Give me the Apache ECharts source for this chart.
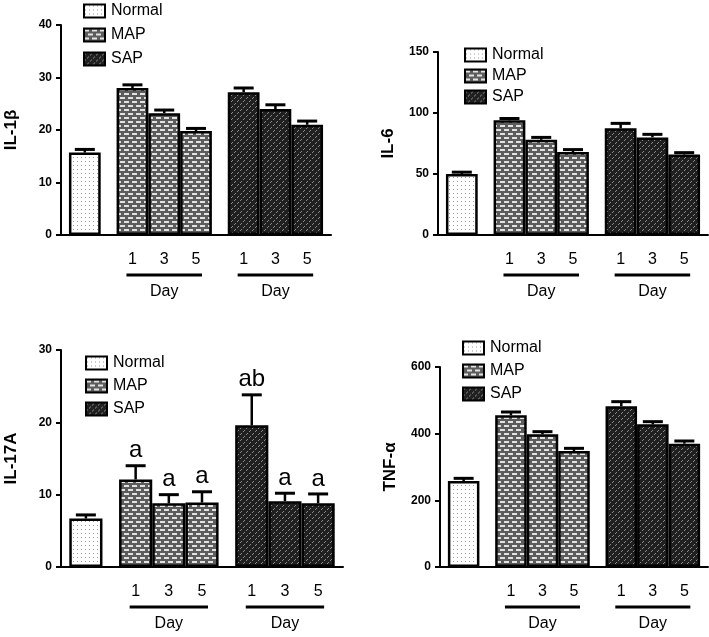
<!DOCTYPE html>
<html>
<head>
<meta charset="utf-8">
<script src="https://cdn.jsdelivr.net/npm/echarts@6/dist/echarts.min.js"></script>
<style>html,body{margin:0;padding:0;background:#fff;}#c{width:709px;height:637px;}</style>
</head>
<body>
<div id="c"></div>
<script>
// ---------------- data ----------------
const legendNames = ['Normal', 'MAP', 'SAP'];
const barGroups = ['Normal', 'MAP', 'MAP', 'MAP', 'SAP', 'SAP', 'SAP'];
const dayLabels = ['', '1', '3', '5', '1', '3', '5'];
const panelNames = ['IL-1β', 'IL-6', 'IL-17A', 'TNF-α'];
const yMaxes = [40, 150, 30, 600];
const ySteps = [10, 50, 10, 200];

const il1bMean = [15.7, 28.0, 23.2, 19.8, 27.2, 24.0, 21.0];
const il1bErr  = [0.6, 0.6, 0.6, 0.5, 0.8, 0.8, 0.7];
const il6Mean  = [50, 94, 78, 68, 87.5, 80, 66];
const il6Err   = [1.5, 1.5, 2, 2, 4, 2.5, 1.5];
const il17Mean = [6.7, 12.1, 8.8, 8.9, 19.6, 9.1, 8.8];
const il17Err  = [0.5, 1.9, 1.2, 1.5, 4.2, 1.1, 1.3];
const il17Sig  = ['', 'a', 'a', 'a', 'ab', 'a', 'a'];
const tnfMean  = [258, 455, 398, 348, 482, 428, 370];
const tnfErr   = [8, 10, 8, 8, 14, 8, 8];

const means = [il1bMean, il6Mean, il17Mean, tnfMean];
const errs = [il1bErr, il6Err, il17Err, tnfErr];
const sigs = [null, null, il17Sig, null];

// ---------------- layout ----------------
const FONT = 'Arial, "Liberation Sans", sans-serif';
const grids = [
  {left: 61, top: 25, width: 270, height: 210},
  {left: 438, top: 52, width: 270, height: 183},
  {left: 61, top: 350, width: 282, height: 217},
  {left: 440, top: 367, width: 268, height: 200}
];
const legendPos = [
  {left: 78, top: -2, gap: 8},
  {left: 459, top: 42, gap: 5},
  {left: 80, top: 350, gap: 7},
  {left: 457, top: 335, gap: 7}
];

// slot positions: half-bar units, bars in a group touch, groups separated by extra half bar
function slotsFor(groups) {
  const s = []; let cur = 1;
  groups.forEach((g, i) => { if (i > 0) cur += (g !== groups[i - 1] ? 3 : 2); s.push(cur); });
  return s;
}
const slots = slotsFor(barGroups);
const nSlots = slots[slots.length - 1] + 2;
const slotCats = Array.from({length: nSlots}, (_, i) => 'c' + i);
const slotLabel = {}; slots.forEach((s, i) => slotLabel[s] = dayLabels[i]);
const slotSet = new Set(slots);

// ---------------- patterns ----------------
function makePattern(kind) {
  const c = document.createElement('canvas');
  const ctx = c.getContext('2d');
  if (kind === 'Normal') {
    c.width = 4; c.height = 4;
    ctx.fillStyle = '#ffffff'; ctx.fillRect(0, 0, 4, 4);
    ctx.fillStyle = '#9a9a9a'; ctx.fillRect(1, 1, 1, 1);
  } else if (kind === 'MAP') {
    c.width = 8; c.height = 8;
    ctx.fillStyle = '#5c5c5c'; ctx.fillRect(0, 0, 8, 8);
    ctx.fillStyle = '#e2e2e2';
    ctx.fillRect(0, 1, 5, 2);
    ctx.fillRect(4, 5, 4, 2); ctx.fillRect(0, 5, 1, 2);
  } else {
    c.width = 6; c.height = 6;
    ctx.fillStyle = '#202020'; ctx.fillRect(0, 0, 6, 6);
    ctx.fillStyle = '#8a8a8a';
    ctx.fillRect(0, 2, 1, 1); ctx.fillRect(1, 1, 1, 1);
    ctx.fillRect(3, 5, 1, 1); ctx.fillRect(4, 4, 1, 1);
  }
  return {image: c, repeat: 'repeat'};
}
const patterns = {};
legendNames.forEach(g => patterns[g] = makePattern(g));

// ---------------- option ----------------
const option = {
  animation: false,
  backgroundColor: '#fff',
  grid: grids.map(g => Object.assign({containLabel: false}, g)),
  legend: legendPos.map(p => ({
    data: legendNames, orient: 'vertical', left: p.left, top: p.top,
    itemWidth: 21, itemHeight: 13, itemGap: p.gap, icon: 'rect', selectedMode: false,
    textStyle: {fontSize: 16, color: '#000', fontFamily: FONT, padding: [0, 0, 0, 1]},
    itemStyle: {borderColor: '#000', borderWidth: 2}
  })),
  xAxis: grids.map((g, k) => ({
    type: 'category', gridIndex: k, data: slotCats, boundaryGap: true,
    axisLine: {lineStyle: {color: '#000', width: 2}},
    axisTick: {alignWithLabel: true, length: 5, lineStyle: {color: '#000', width: 2},
      interval: (idx) => slotSet.has(idx)},
    axisLabel: {interval: (idx) => slotSet.has(idx), formatter: (v, idx) => slotLabel[idx] || '',
      fontSize: 16, color: '#000', fontFamily: FONT, margin: 17},
    splitLine: {show: false}
  })),
  yAxis: grids.map((g, k) => ({
    type: 'value', gridIndex: k, min: 0, max: yMaxes[k], interval: ySteps[k],
    name: panelNames[k], nameLocation: 'middle', nameRotate: 90, nameGap: 41,
    nameTextStyle: {fontSize: 17, fontWeight: 'bold', color: '#000', fontFamily: FONT},
    axisLine: {show: true, lineStyle: {color: '#000', width: 2}},
    axisTick: {show: true, length: 5, lineStyle: {color: '#000', width: 2}},
    axisLabel: {fontSize: 12, fontWeight: 'bold', color: '#000', fontFamily: FONT, margin: 9},
    splitLine: {show: false}
  })),
  series: []
};

grids.forEach((g, k) => {
  const bw = 2 * g.width / nSlots;
  legendNames.forEach(name => {
    const data = Array(nSlots).fill('-');
    barGroups.forEach((bg, i) => { if (bg === name) data[slots[i]] = means[k][i]; });
    option.series.push({
      type: 'bar', name: name, xAxisIndex: k, yAxisIndex: k, stack: 'p' + k,
      barWidth: bw, data: data, silent: true,
      itemStyle: {color: patterns[name], borderColor: '#000', borderWidth: 2.5}
    });
  });
  const sig = sigs[k];
  option.series.push({
    type: 'custom', name: 'err' + k, xAxisIndex: k, yAxisIndex: k, z: 5, silent: true,
    data: means[k].map((m, i) => [slots[i], m, errs[k][i]]),
    renderItem: function (params, api) {
      const x = api.value(0), m = api.value(1), e = api.value(2);
      const p0 = api.coord([x, m]);
      const p1 = api.coord([x, m + e]);
      const children = [
        {type: 'line', shape: {x1: p0[0], y1: p0[1], x2: p1[0], y2: p1[1]},
          style: {stroke: '#000', lineWidth: 2.5}},
        {type: 'line', shape: {x1: p1[0] - 10, y1: p1[1], x2: p1[0] + 10, y2: p1[1]},
          style: {stroke: '#000', lineWidth: 3}}
      ];
      if (sig && sig[params.dataIndex]) {
        children.push({type: 'text', style: {text: sig[params.dataIndex], x: p1[0], y: p1[1] - 3,
          textAlign: 'center', textVerticalAlign: 'bottom', fontSize: 24, fontFamily: FONT, fill: '#000'}});
      }
      return {type: 'group', children: children};
    }
  });
});

const chart = echarts.init(document.getElementById('c'), null, {renderer: 'canvas'});
chart.setOption(option);

// "Day" brackets under each group of days
const graphics = [];
grids.forEach((g, k) => {
  ['MAP', 'SAP'].forEach(name => {
    const idx = barGroups.map((bg, i) => bg === name ? i : -1).filter(i => i >= 0);
    const a = chart.convertToPixel({gridIndex: k}, [slots[idx[0]], 0]);
    const b = chart.convertToPixel({gridIndex: k}, [slots[idx[idx.length - 1]], 0]);
    graphics.push({type: 'line', shape: {x1: a[0] - 6, y1: a[1] + 40, x2: b[0] + 6, y2: b[1] + 40},
      style: {stroke: '#000', lineWidth: 3}, silent: true});
    graphics.push({type: 'text', x: (a[0] + b[0]) / 2, y: a[1] + 57,
      style: {text: 'Day', fontSize: 16, fontFamily: FONT, fill: '#000', textAlign: 'center', textVerticalAlign: 'middle'},
      silent: true});
  });
});
chart.setOption({graphic: graphics});
</script>
</body>
</html>
